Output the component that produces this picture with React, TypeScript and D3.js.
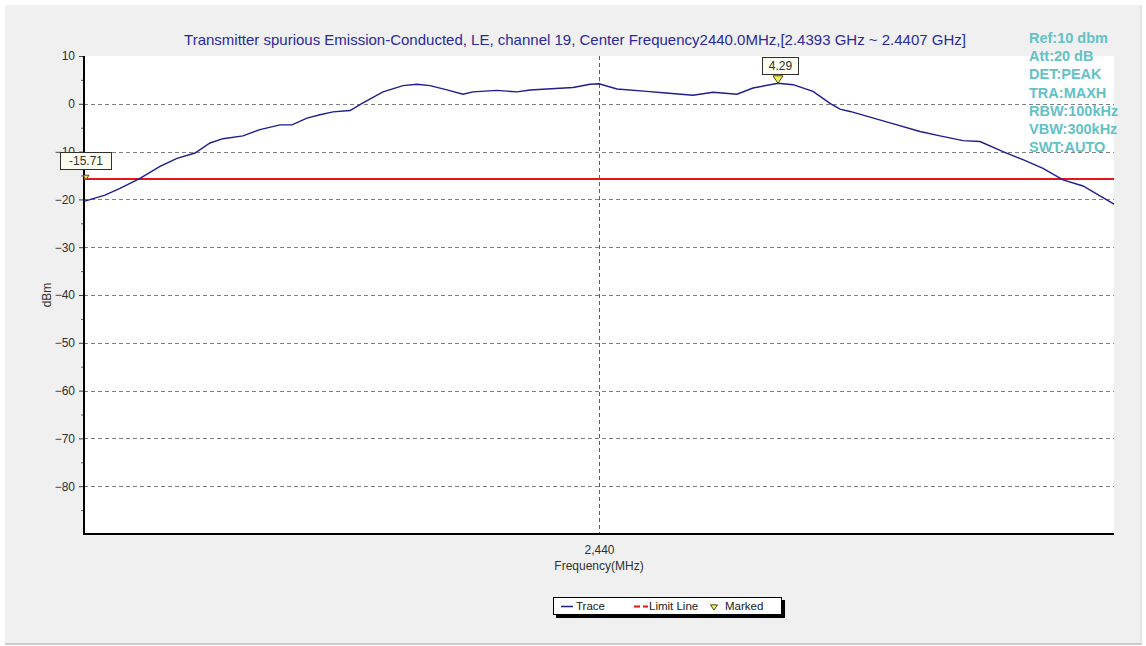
import React, { useEffect, useRef } from "react";
import * as d3 from "d3";

const titleText =
  "Transmitter spurious Emission-Conducted, LE, channel 19, Center Frequency2440.0MHz,[2.4393 GHz ~ 2.4407 GHz]";

const infoLines = ["Ref:10 dbm", "Att:20 dB", "DET:PEAK", "TRA:MAXH", "RBW:100kHz", "VBW:300kHz", "SWT:AUTO"];

// trace: frequency (MHz) and level (dBm)
const traceFreq = [
  2439.3, 2439.3285, 2439.3489, 2439.3761, 2439.4033, 2439.4264, 2439.4509, 2439.4713, 2439.4889,
  2439.5161, 2439.5392, 2439.5664, 2439.5827, 2439.6031, 2439.6208, 2439.6384, 2439.6616, 2439.6792,
  2439.7064, 2439.7336, 2439.7526, 2439.7703, 2439.7934, 2439.8151, 2439.8287, 2439.8613, 2439.8885,
  2439.9062, 2439.9293, 2439.9647, 2439.9878, 2440.0, 2440.0245, 2440.0652, 2440.087, 2440.1278,
  2440.155, 2440.1876, 2440.2093, 2440.2433, 2440.2637, 2440.2909, 2440.314, 2440.3276, 2440.3412,
  2440.3684, 2440.3956, 2440.4363, 2440.4635, 2440.4948, 2440.5179, 2440.5491, 2440.5763, 2440.6035,
  2440.6307, 2440.6579, 2440.7,
];
const traceLevel = [
  -20.4, -19.1, -17.7, -15.6, -13.1, -11.4, -10.3, -8.2, -7.3,
  -6.7, -5.4, -4.4, -4.4, -3.0, -2.3, -1.7, -1.4, 0.2,
  2.5, 3.8, 4.1, 3.8, 2.9, 2.0, 2.5, 2.8, 2.5,
  2.9, 3.1, 3.4, 4.1, 4.2, 3.1, 2.6, 2.3, 1.8,
  2.4, 2.0, 3.3, 4.29, 4.0, 2.6, 0.1, -1.1, -1.6,
  -2.8, -4.0, -5.8, -6.7, -7.7, -7.9, -10.0, -11.7, -13.5,
  -15.9, -17.2, -21.0,
];

const limitLevel = -15.71;
const markerFreq = [2439.3, 2440.2433];
const markerLevel = [-15.71, 4.29];

const yMajorTicks = [10, 0, -10, -20, -30, -40, -50, -60, -70, -80];
const yMinorTicks = [5, -5, -15, -25, -35, -45, -55, -65, -75, -85];
const xTicks = [2440];
const legendItems = ["Trace", "Limit Line", "Marked"];

export default function App() {
  const svgRef = useRef<SVGSVGElement>(null);

  useEffect(() => {
    const svg = d3.select(svgRef.current);
    svg.selectAll("*").remove();

    const width = 1146;
    const height = 646;
    const plot = { left: 84, right: 1114, top: 56, bottom: 534 };
    const font = "Arial, 'Liberation Sans', sans-serif";

    // window background
    svg.append("rect").attr("width", width).attr("height", height).attr("fill", "#ffffff");
    svg.append("rect").attr("x", 5).attr("y", 5).attr("width", 1137).attr("height", 639).attr("fill", "#f0f0f0");
    svg.append("line").attr("x1", 5).attr("x2", 1142).attr("y1", 644).attr("y2", 644).attr("stroke", "#a0a0a0");
    svg.append("line").attr("x1", 1141).attr("x2", 1141).attr("y1", 5).attr("y2", 644).attr("stroke", "#d8d8d8");

    const x = d3.scaleLinear().domain([2439.3, 2440.7]).range([plot.left, plot.right]);
    const y = d3.scaleLinear().domain([-90, 10]).range([plot.bottom, plot.top]);

    svg.append("rect")
      .attr("x", plot.left).attr("y", plot.top)
      .attr("width", plot.right - plot.left).attr("height", plot.bottom - plot.top)
      .attr("fill", "#ffffff");

    // grid
    svg.append("g").selectAll("line").data(yMajorTicks.filter((d) => d < 10)).join("line")
      .attr("x1", plot.left).attr("x2", plot.right)
      .attr("y1", (d) => Math.round(y(d)) + 0.5).attr("y2", (d) => Math.round(y(d)) + 0.5)
      .attr("stroke", "#808080").attr("stroke-dasharray", "4,3");
    svg.append("g").selectAll("line").data(xTicks).join("line")
      .attr("x1", (d) => Math.round(x(d)) + 0.5).attr("x2", (d) => Math.round(x(d)) + 0.5)
      .attr("y1", plot.top).attr("y2", plot.bottom)
      .attr("stroke", "#606060").attr("stroke-dasharray", "4,3");

    // y axis
    const yAxis = svg.append("g").attr("transform", `translate(${plot.left},0)`)
      .call(d3.axisLeft(y).tickValues(yMajorTicks).tickSize(5).tickFormat(d3.format("d")));
    yAxis.select(".domain").remove();
    yAxis.selectAll("text").attr("font-family", font).attr("font-size", 12).attr("fill", "#303030").attr("dx", -1);
    yAxis.selectAll("line").attr("stroke", "#404040");
    svg.append("g").attr("transform", `translate(${plot.left},0)`)
      .call(d3.axisLeft(y).tickValues(yMinorTicks).tickSize(3).tickFormat(() => ""))
      .call((g) => g.select(".domain").remove())
      .selectAll("line").attr("stroke", "#606060");

    // x axis
    const xAxis = svg.append("g").attr("transform", `translate(0,${plot.bottom})`)
      .call(d3.axisBottom(x).tickValues(xTicks).tickSize(0).tickPadding(11).tickFormat(d3.format(",")));
    xAxis.select(".domain").remove();
    xAxis.selectAll("text").attr("font-family", font).attr("font-size", 12).attr("fill", "#303030");

    svg.append("line").attr("x1", plot.left).attr("x2", plot.left).attr("y1", plot.top).attr("y2", plot.bottom + 1)
      .attr("stroke", "#000").attr("stroke-width", 2);
    svg.append("line").attr("x1", plot.left - 1).attr("x2", plot.right).attr("y1", plot.bottom).attr("y2", plot.bottom)
      .attr("stroke", "#000").attr("stroke-width", 2);

    svg.append("text").attr("x", x(2440)).attr("y", 570).attr("text-anchor", "middle")
      .attr("font-family", font).attr("font-size", 12).attr("fill", "#303030").text("Frequency(MHz)");
    svg.append("text").attr("transform", `translate(51,${y(-40)}) rotate(-90)`).attr("text-anchor", "middle")
      .attr("font-family", font).attr("font-size", 12).attr("fill", "#303030").text("dBm");

    // limit line
    svg.append("line").attr("x1", plot.left).attr("x2", plot.right)
      .attr("y1", y(limitLevel)).attr("y2", y(limitLevel))
      .attr("stroke", "#e8141c").attr("stroke-width", 2);

    // trace
    const pts = traceFreq.map((f, i) => [f, traceLevel[i]] as [number, number]);
    const line = d3.line<[number, number]>().x((d) => x(d[0])).y((d) => y(d[1]));
    svg.append("path").datum(pts).attr("d", line)
      .attr("fill", "none").attr("stroke", "#1e1e8c").attr("stroke-width", 1.4);

    // markers
    const tri = (cx: number, cy: number, s: number) =>
      `M${cx - s},${cy - s * 0.9}L${cx + s},${cy - s * 0.9}L${cx},${cy + s * 0.6}Z`;
    markerFreq.forEach((f, i) => {
      const cx = x(f) + (i === 0 ? 2 : 0);
      const cy = y(markerLevel[i]);
      const s = i === 0 ? 3 : 5;
      svg.append("path").attr("d", tri(cx, cy - (i === 0 ? 1 : 3), s))
        .attr("fill", "#f4f050").attr("stroke", "#4a4a20").attr("stroke-width", 1);
      const label = markerLevel[i].toFixed(2);
      const bx = i === 0 ? 60 : cx - 16;
      const by = i === 0 ? 152 : 57;
      const bw = i === 0 ? 51 : 36;
      svg.append("rect").attr("x", bx + 0.5).attr("y", by + 0.5).attr("width", bw).attr("height", 17)
        .attr("fill", "#fdfdef").attr("stroke", "#303030");
      svg.append("text").attr("x", bx + bw / 2 + 0.5).attr("y", by + 13).attr("text-anchor", "middle")
        .attr("font-family", font).attr("font-size", 12).attr("fill", "#303030").text(label);
    });

    // title
    svg.append("text").attr("x", 575).attr("y", 45).attr("text-anchor", "middle")
      .attr("font-family", font).attr("font-size", 15).attr("fill", "#2a2a9a").text(titleText);

    // settings text
    svg.append("g").selectAll("text").data(infoLines).join("text")
      .attr("x", 1029).attr("y", (_, i) => 43 + i * 18.2)
      .attr("font-family", font).attr("font-size", 14.5).attr("font-weight", "bold")
      .attr("fill", "#62c2c6").text((d) => d);

    // legend
    const lg = svg.append("g").attr("transform", "translate(553,597)");
    lg.append("rect").attr("x", 3).attr("y", 3).attr("width", 229).attr("height", 18).attr("fill", "#000");
    lg.append("rect").attr("x", 0.5).attr("y", 0.5).attr("width", 228).attr("height", 17)
      .attr("fill", "#ffffff").attr("stroke", "#000");
    const itemX = [8, 81, 157];
    legendItems.forEach((name, i) => {
      const ix = itemX[i];
      if (i === 0) {
        lg.append("line").attr("x1", ix).attr("x2", ix + 12).attr("y1", 9.5).attr("y2", 9.5)
          .attr("stroke", "#1e1e8c").attr("stroke-width", 1.5);
      } else if (i === 1) {
        lg.append("line").attr("x1", ix).attr("x2", ix + 14).attr("y1", 9.5).attr("y2", 9.5)
          .attr("stroke", "#e8141c").attr("stroke-width", 2).attr("stroke-dasharray", "6,3");
      } else {
        lg.append("path").attr("d", tri(ix + 4, 11, 3.5)).attr("fill", "#f4f050").attr("stroke", "#4a4a20");
      }
      lg.append("text").attr("x", ix + 15).attr("y", 13)
        .attr("font-family", font).attr("font-size", 11.5).attr("fill", "#202020").text(name);
    });
  }, []);

  return (
    <div style={{ position: "absolute", left: 0, top: 0 }}>
      <svg ref={svgRef} width="1146" height="646" style={{ display: "block" }}></svg>
    </div>
  );
}
